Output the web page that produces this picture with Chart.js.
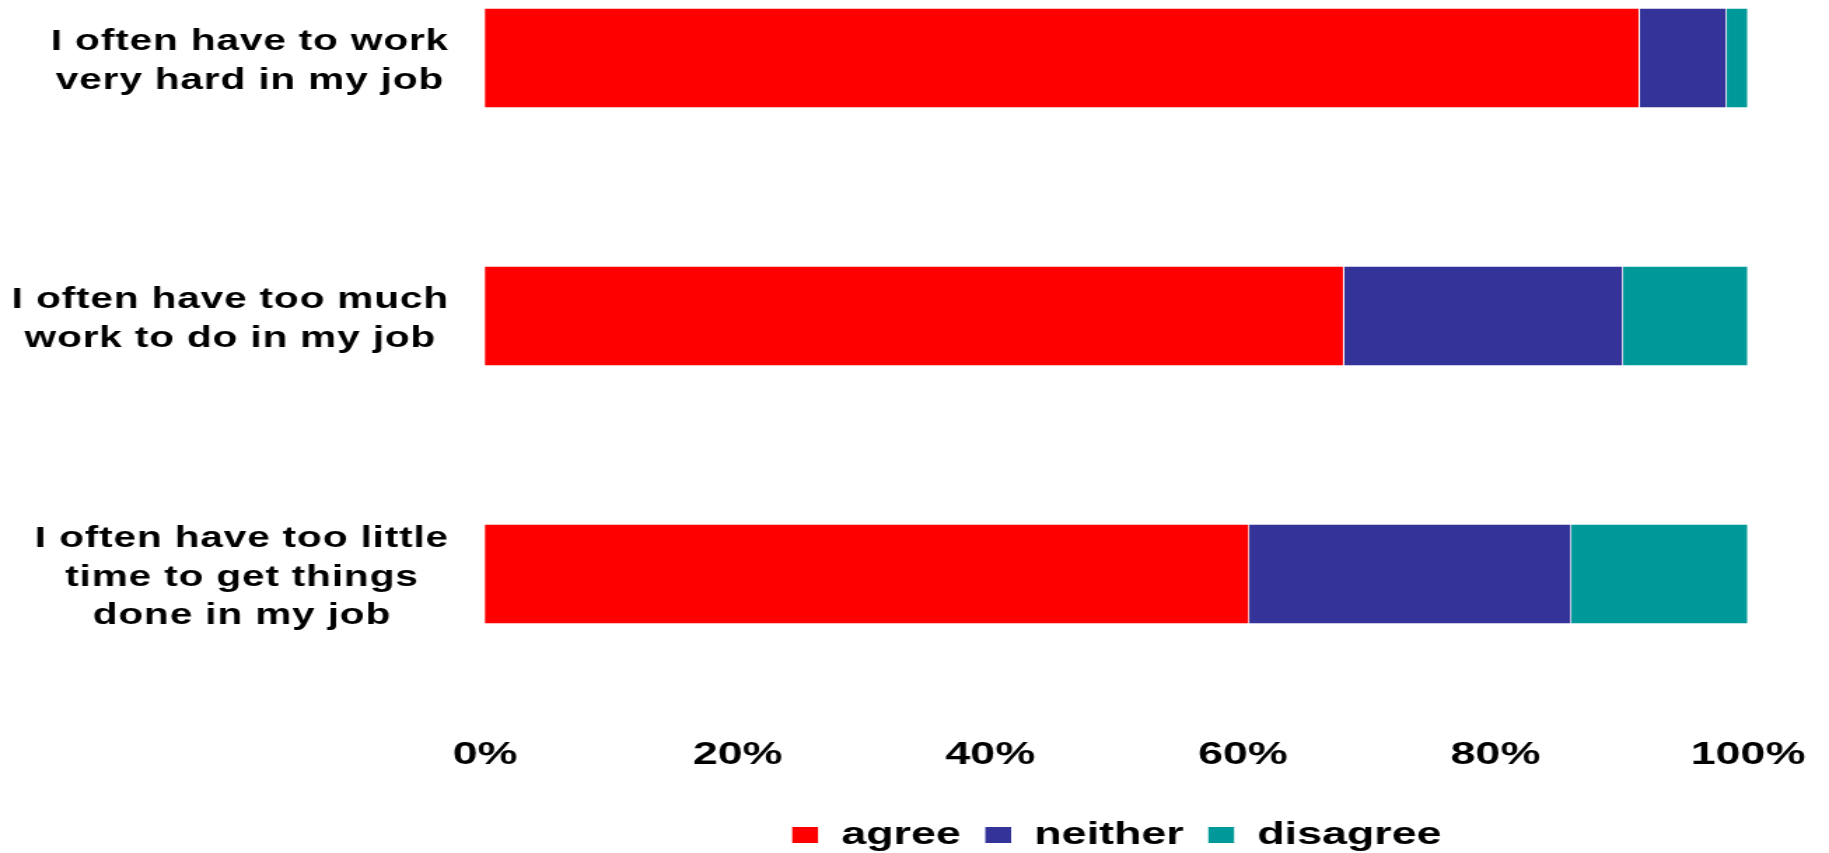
<!DOCTYPE html>
<html>
<head>
<meta charset="utf-8">
<script src="https://cdn.jsdelivr.net/npm/chart.js@4/dist/chart.umd.min.js"></script>
<style>
  html, body { margin: 0; background: #fff; }
  /* the original picture is stretched sideways, so the canvas is too */
  #chart { display: block; width: 1829px !important; height: 853px !important; }
</style>
</head>
<body>
<canvas id="chart" width="1306" height="853"></canvas>
<script>
const categories = [
    ["I often have to work", "very hard in my job"],
    ["I often have too much", "work to do in my job"],
    ["I often have too little", "time to get things", "done in my job"]
];
const agree = [91.4, 68.0, 60.5];
const neither = [6.9, 22.1, 25.5];
const disagree = [1.7, 9.9, 14.0];
const seriesNames = ["agree", "neither", "disagree"];
const seriesColors = ["#FF0000", "#333399", "#009999"];
const tickStep = 20;

const family = "'Liberation Sans', Arial, sans-serif";

// category labels: slightly spread out, each block of lines centred
// on its own widest line and pushed against the bars
const categoryLabels = {
    id: "categoryLabels",
    beforeDraw: chart => { chart.ctx.letterSpacing = "0px"; },
    afterDatasetsDraw: chart => {
        const ctx = chart.ctx;
        ctx.letterSpacing = "0.6px";
        const scale = chart.scales.y;
        const rightEdge = scale.right - 25.7;
        scale.getLabelItems().forEach(item => {
            if (item.moved) return;
            ctx.font = item.font.string;
            const lines = Array.isArray(item.label) ? item.label : [item.label];
            const widest = Math.max(...lines.map(l => ctx.measureText(l).width));
            item.options.translation[0] = rightEdge - widest / 2;
            item.options.translation[1] += 3.5;
            item.moved = true;
        });
    },
    afterDraw: chart => { chart.ctx.letterSpacing = "0px"; }
};

const datasets = [agree, neither, disagree].map((values, i) => ({
    label: seriesNames[i],
    data: values,
    backgroundColor: seriesColors[i],
    borderColor: "#ffffff",
    borderWidth: 1,
    barThickness: 100,
    clip: false
}));

new Chart(document.getElementById("chart").getContext("2d"), {
    type: "bar",
    data: {
        labels: categories,
        datasets: datasets
    },
    options: {
        indexAxis: "y",
        responsive: false,
        animation: false,
        layout: {
            padding: { top: 58, right: 57.8, bottom: -8, left: 0 }
        },
        scales: {
            x: {
                stacked: true,
                min: 0,
                max: 100,
                ticks: {
                    stepSize: tickStep,
                    padding: 161.8,
                    color: "#000",
                    font: { family: family, size: 32, weight: "bold" },
                    callback: v => v + "%"
                },
                grid: { display: false, drawTicks: false },
                border: { display: false },
                afterFit: scale => {
                    scale.height = 228;
                    // the big tick padding should not eat into the sides
                    scale.paddingLeft = 0;
                    scale.paddingRight = 0;
                }
            },
            y: {
                stacked: true,
                offset: false,
                ticks: {
                    z: 1,
                    autoSkip: false,
                    crossAlign: "center",
                    padding: 16.4,
                    color: "#000",
                    font: { family: family, size: 29, weight: "bold", lineHeight: 1.32 }
                },
                grid: { display: false, drawTicks: false },
                border: { display: false },
                afterFit: scale => {
                    scale.width = 346.3;
                    scale.paddingTop = 0;
                    scale.paddingBottom = 0;
                }
            }
        },
        plugins: {
            legend: {
                position: "bottom",
                fullSize: false,
                labels: {
                    boxWidth: 19.5,
                    boxHeight: 17,
                    padding: 17,
                    color: "#000",
                    font: { family: family, size: 32, weight: "bold" }
                }
            },
            tooltip: { enabled: false }
        }
    },
    plugins: [categoryLabels]
});
</script>
</body>
</html>
